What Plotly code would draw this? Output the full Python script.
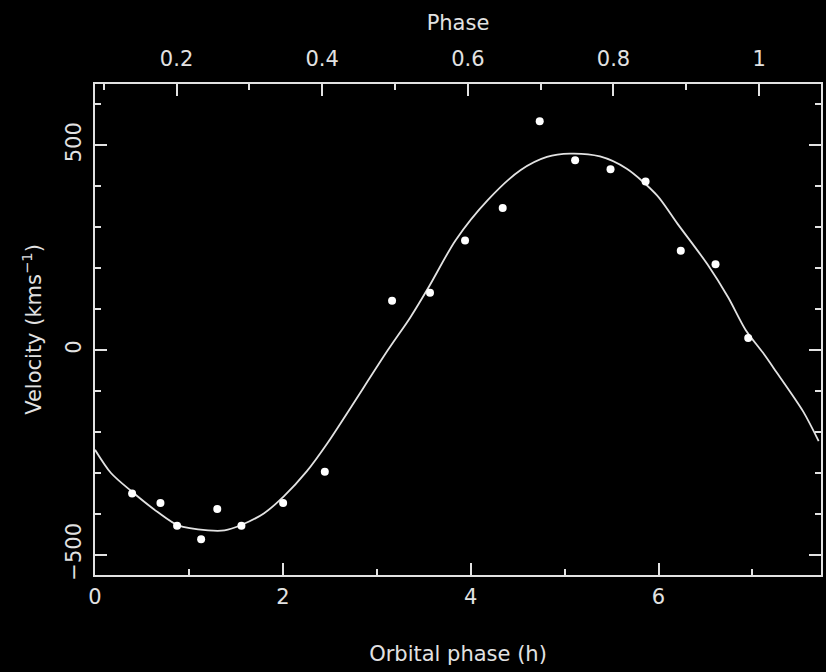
import plotly.graph_objects as go

# Observed radial velocities
obs_hours = [0.395, 0.697, 0.874, 1.130, 1.302, 1.559, 2.003, 2.447, 3.163, 3.567,
             3.940, 4.341, 4.735, 5.112, 5.489, 5.862, 6.237, 6.607, 6.955]
obs_vel = [-350, -373, -429, -462, -388, -429, -373, -297, 121, 140,
           268, 347, 559, 464, 442, 412, 243, 210, 30]

# Fitted curve
fit_hours = [0.0, 0.170, 0.385, 0.671, 0.886, 1.204, 1.380, 1.557, 1.801, 2.010,
             2.254, 2.478, 3.115, 3.357, 3.563, 3.838, 4.184, 4.533, 4.812, 5.059,
             5.377, 5.662, 5.984, 6.201, 6.526, 6.744, 6.926, 7.124, 7.251, 7.541, 7.705]
fit_vel = [-243, -300, -344, -396, -428, -440, -440, -427, -398, -357,
           -296, -226, -1, 80, 158, 268, 367, 440, 472, 480,
           473, 443, 378, 309, 208, 128, 50, -10, -52, -150, -222]

hour_range = [0.0, 7.73]
vel_range = [-549, 650]
phase_range = [0.088, 1.085]
phase_ticks = [0.2, 0.4, 0.6, 0.8, 1.0]
phase_labels = ["0.2", "0.4", "0.6", "0.8", "1"]
vel_ticks = [-500, 0, 500]
vel_labels = ["\u2212500", "0", "500"]
hour_ticks = [0, 2, 4, 6]

FG = "#e2e2e2"
FONT = "DejaVu Sans"

fig = go.Figure()
fig.add_trace(go.Scatter(x=fit_hours, y=fit_vel, mode="lines",
                         line=dict(color=FG, width=1.8, shape="spline", smoothing=0.8),
                         showlegend=False, hoverinfo="skip"))
fig.add_trace(go.Scatter(x=obs_hours, y=obs_vel, mode="markers",
                         marker=dict(color="white", size=8, line=dict(width=0)),
                         showlegend=False))
# helper trace so the top phase axis is drawn
fig.add_trace(go.Scatter(x=phase_range, y=[None, None], xaxis="x2", mode="lines",
                         showlegend=False, hoverinfo="skip"))

axis_common = dict(showgrid=False, zeroline=False, showline=True, linecolor=FG,
                   linewidth=2, ticks="inside", tickcolor=FG, tickwidth=1.5,
                   ticklen=12, tickfont=dict(family=FONT, size=21, color=FG))

fig.update_layout(
    width=826, height=672,
    paper_bgcolor="black", plot_bgcolor="black",
    margin=dict(l=95, r=3, t=84, b=97),
    xaxis=dict(range=hour_range, tickvals=hour_ticks, ticktext=[str(v) for v in hour_ticks],
               ticklabelstandoff=2,
               minor=dict(ticks="inside", dtick=1, ticklen=6, tickcolor=FG, tickwidth=1.5),
               title=dict(text="Orbital phase (h)", font=dict(family=FONT, size=21, color=FG),
                          standoff=38),
               mirror=False, **axis_common),
    xaxis2=dict(range=phase_range, overlaying="x", side="top", anchor="y",
                tickvals=phase_ticks, ticktext=phase_labels, ticklabelstandoff=8,
                minor=dict(ticks="inside", dtick=0.1, tick0=0, ticklen=6, tickcolor=FG, tickwidth=1.5),
                title=dict(text="Phase", font=dict(family=FONT, size=21, color=FG), standoff=10),
                **axis_common),
    yaxis=dict(range=vel_range, tickvals=vel_ticks, ticktext=vel_labels, tickangle=-90,
               ticklabelstandoff=4,
               minor=dict(ticks="inside", dtick=100, tick0=0, ticklen=6, tickcolor=FG, tickwidth=1.5),
               title=dict(text="Velocity (kms<sup>\u22121</sup>)",
                          font=dict(family=FONT, size=21, color=FG), standoff=14),
               mirror="ticks", **axis_common),
)

fig.write_html("out.html")
